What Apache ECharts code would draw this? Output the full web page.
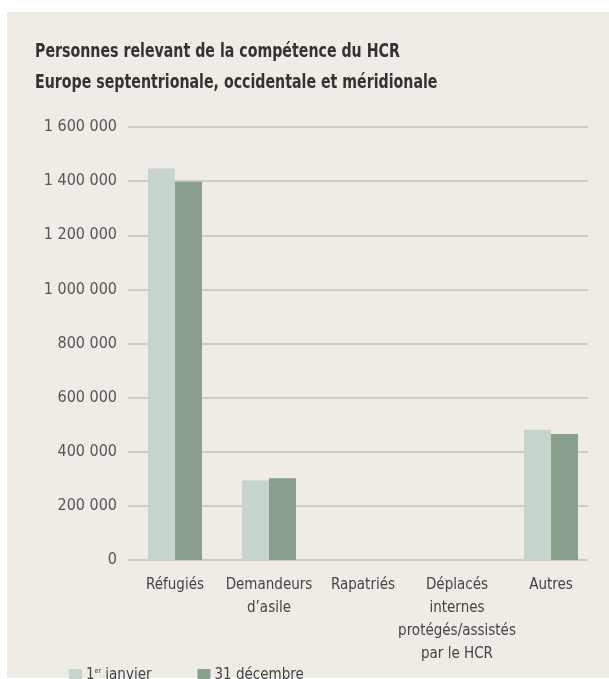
<!DOCTYPE html>
<html><head><meta charset="utf-8">
<script src="https://cdn.jsdelivr.net/npm/echarts@6/dist/echarts.min.js"></script>
<style>html,body{margin:0;padding:0;background:#fff}#c{width:609px;height:679px}</style>
</head><body><div id="c"></div>
<script>
const titleLines = ['Personnes relevant de la compétence du HCR', 'Europe septentrionale, occidentale et méridionale'];
const categories = ['Réfugiés', 'Demandeurs\nd\u2019asile', 'Rapatriés', 'Déplacés\ninternes\nprotégés/assistés\npar le HCR', 'Autres'];
const seriesNames = ['1er janvier', '31 décembre'];
const janvier = [1447000, 294000, 0, 0, 481000];
const decembre = [1398000, 302000, 0, 0, 466000];
const yTicks = [0, 200000, 400000, 600000, 800000, 1000000, 1200000, 1400000, 1600000];

const FONT = '"DejaVu Sans Condensed", "Liberation Sans Narrow", sans-serif';
const fmt = v => String(v).replace(/\B(?=(\d{3})+(?!\d))/g, ' ');

const chart = echarts.init(document.getElementById('c'), null, {renderer: 'canvas'});
chart.setOption({
  animation: false,
  backgroundColor: '#ffffff',
  graphic: [
    {type: 'rect', left: 7, top: 12, z: -10, shape: {width: 602, height: 666}, style: {fill: '#efebe5'}},
    {type: 'text', x: 35, y: 37, scaleX: 0.83, scaleY: 1.05, z: 10,
      style: {text: titleLines.join('\n'), font: 'bold 19px ' + FONT, fill: '#333333', lineHeight: 29}}
  ],
  legend: {
    left: 64, top: 663, itemWidth: 13, itemHeight: 13, itemGap: 46,
    icon: 'rect',
    formatter: n => n === '1er janvier' ? '1{sup|er} janvier' : n,
    textStyle: {fontFamily: FONT, fontSize: 15, color: '#444444', padding: [0,0,0,-1],
      rich: {sup: {fontSize: 7, verticalAlign: 'top', fontFamily: FONT, color: '#444444', padding: [0,0,8,0]}}},
    data: seriesNames
  },
  grid: [
    {left: 128, right: 11, top: 127, bottom: 119},
    {left: 128, right: 21, top: 127, bottom: 119}
  ],
  xAxis: [
    {type: 'category', gridIndex: 0, data: categories,
      axisLine: {show: false}, axisTick: {show: false},
      axisLabel: {interval: 0, fontFamily: FONT, fontSize: 15, color: '#444444', lineHeight: 23, margin: 14}},
    {type: 'value', gridIndex: 1, min: 0, max: 1, show: false}
  ],
  yAxis: [
    {type: 'value', gridIndex: 0, min: 0, max: 1600000, interval: 200000,
      axisLine: {show: false}, axisTick: {show: false}, splitLine: {show: false},
      axisLabel: {formatter: v => yTicks.includes(v) ? fmt(v) : '', fontFamily: FONT, fontSize: 16, color: '#555555', margin: 11}},
    {type: 'value', gridIndex: 1, min: 0, max: 1600000, interval: 200000,
      axisLine: {show: false}, axisTick: {show: false}, axisLabel: {show: false},
      splitLine: {show: true, lineStyle: {color: '#cbbfb8', width: 1.5}}}
  ],
  series: [
    {name: seriesNames[0], type: 'bar', xAxisIndex: 0, yAxisIndex: 0, data: janvier, barWidth: 27, barGap: '0%', itemStyle: {color: '#c7d4cc'}, z: 5},
    {name: seriesNames[1], type: 'bar', xAxisIndex: 0, yAxisIndex: 0, data: decembre, barWidth: 27, barGap: '0%', itemStyle: {color: '#8aa08e'}, z: 5}
  ]
});
</script></body></html>
